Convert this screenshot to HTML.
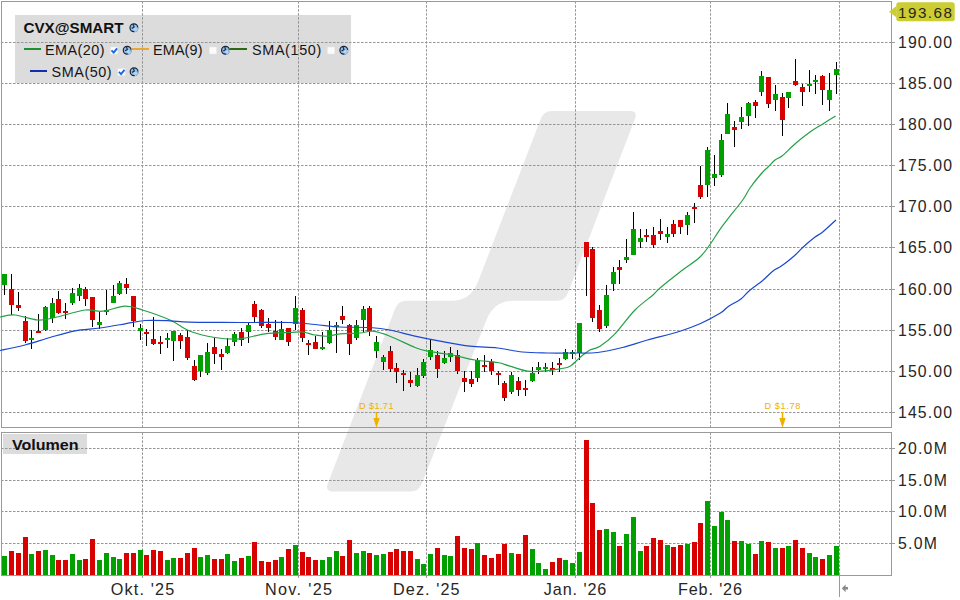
<!DOCTYPE html><html><head><meta charset="utf-8"><style>html,body{margin:0;padding:0;background:#fff;width:960px;height:600px;overflow:hidden}svg{display:block}text{font-family:"Liberation Sans",sans-serif}</style></head><body>
<svg width="960" height="600" viewBox="0 0 960 600">
<rect x="0" y="0" width="960" height="600" fill="#fff"/>
<path d="M551.8,111.0 L630.0,111.0 Q638.0,111.0 634.9,119.0 L568.0,292.8 Q564.9,300.8 556.9,300.8 L513.0,300.8 Q494.0,300.8 486.5,319.8 L421.9,483.5 Q418.7,491.5 410.7,491.5 L332.7,491.5 Q324.7,491.5 327.8,483.5 L395.1,308.8 Q398.1,300.8 406.1,300.8 L451.7,300.8 Q470.7,300.8 478.0,281.8 L540.7,119.0 Q543.8,111.0 551.8,111.0 Z" fill="#e8e8e8"/>
<rect x="15" y="15" width="336" height="68" fill="#dcdcdc"/>
<rect x="3" y="434" width="84" height="20" fill="#dcdcdc"/>
<g stroke="#959595" stroke-width="1" stroke-dasharray="2.5 1.5">
<line x1="1" y1="42.5" x2="891" y2="42.5"/>
<line x1="1" y1="83.5" x2="891" y2="83.5"/>
<line x1="1" y1="124.5" x2="891" y2="124.5"/>
<line x1="1" y1="165.5" x2="891" y2="165.5"/>
<line x1="1" y1="206.5" x2="891" y2="206.5"/>
<line x1="1" y1="247.5" x2="891" y2="247.5"/>
<line x1="1" y1="289.5" x2="891" y2="289.5"/>
<line x1="1" y1="330.5" x2="891" y2="330.5"/>
<line x1="1" y1="371.5" x2="891" y2="371.5"/>
<line x1="1" y1="412.5" x2="891" y2="412.5"/>
<line x1="1" y1="448.5" x2="891" y2="448.5"/>
<line x1="1" y1="480.5" x2="891" y2="480.5"/>
<line x1="1" y1="511.5" x2="891" y2="511.5"/>
<line x1="1" y1="543.5" x2="891" y2="543.5"/>
<line x1="142.5" y1="1.15" x2="142.5" y2="427"/>
<line x1="142.5" y1="432.4" x2="142.5" y2="575"/>
<line x1="298.5" y1="1.15" x2="298.5" y2="427"/>
<line x1="298.5" y1="432.4" x2="298.5" y2="575"/>
<line x1="426.5" y1="1.15" x2="426.5" y2="427"/>
<line x1="426.5" y1="432.4" x2="426.5" y2="575"/>
<line x1="575.5" y1="1.15" x2="575.5" y2="427"/>
<line x1="575.5" y1="432.4" x2="575.5" y2="575"/>
<line x1="710.5" y1="1.15" x2="710.5" y2="427"/>
<line x1="710.5" y1="432.4" x2="710.5" y2="575"/>
<line x1="839.5" y1="1.15" x2="839.5" y2="427"/>
<line x1="839.5" y1="432.4" x2="839.5" y2="575"/>
</g>
<g fill="none" stroke="#9a9a9a" stroke-width="1" shape-rendering="crispEdges">
<rect x="1.5" y="1.5" width="890" height="426"/>
<rect x="1.5" y="432.5" width="890" height="143"/>
<line x1="891" y1="42.5" x2="895" y2="42.5"/>
<line x1="891" y1="83.5" x2="895" y2="83.5"/>
<line x1="891" y1="124.5" x2="895" y2="124.5"/>
<line x1="891" y1="165.5" x2="895" y2="165.5"/>
<line x1="891" y1="206.5" x2="895" y2="206.5"/>
<line x1="891" y1="247.5" x2="895" y2="247.5"/>
<line x1="891" y1="289.5" x2="895" y2="289.5"/>
<line x1="891" y1="330.5" x2="895" y2="330.5"/>
<line x1="891" y1="371.5" x2="895" y2="371.5"/>
<line x1="891" y1="412.5" x2="895" y2="412.5"/>
<line x1="891" y1="448.5" x2="895" y2="448.5"/>
<line x1="891" y1="480.5" x2="895" y2="480.5"/>
<line x1="891" y1="511.5" x2="895" y2="511.5"/>
<line x1="891" y1="543.5" x2="895" y2="543.5"/>
<line x1="142.5" y1="575" x2="142.5" y2="578"/>
<line x1="298.5" y1="575" x2="298.5" y2="578"/>
<line x1="426.5" y1="575" x2="426.5" y2="578"/>
<line x1="575.5" y1="575" x2="575.5" y2="578"/>
<line x1="710.5" y1="575" x2="710.5" y2="578"/>
<line x1="839.5" y1="575" x2="839.5" y2="597"/>
</g>
<path d="M841.8,588.3 L845.6,584.6 L845.6,587.1 L848,587.1 L848,589.6 L845.6,589.6 L845.6,592.2 Z" fill="#8a8a8a"/>
<g shape-rendering="crispEdges">
<rect x="2" y="556" width="5" height="19" fill="#00a000"/>
<rect x="9" y="551" width="5" height="24" fill="#d90000"/>
<rect x="16" y="553" width="5" height="22" fill="#d90000"/>
<rect x="23" y="537" width="5" height="38" fill="#d90000"/>
<rect x="29" y="554" width="5" height="21" fill="#00a000"/>
<rect x="36" y="551" width="5" height="24" fill="#d90000"/>
<rect x="43" y="550" width="5" height="25" fill="#00a000"/>
<rect x="50" y="555" width="5" height="20" fill="#00a000"/>
<rect x="56" y="560" width="5" height="15" fill="#d90000"/>
<rect x="63" y="560" width="5" height="15" fill="#d90000"/>
<rect x="70" y="554" width="5" height="21" fill="#00a000"/>
<rect x="77" y="560" width="5" height="15" fill="#00a000"/>
<rect x="83" y="559" width="5" height="16" fill="#d90000"/>
<rect x="90" y="539" width="5" height="36" fill="#d90000"/>
<rect x="97" y="560" width="5" height="15" fill="#00a000"/>
<rect x="104" y="553" width="5" height="22" fill="#00a000"/>
<rect x="111" y="557" width="5" height="18" fill="#00a000"/>
<rect x="117" y="559" width="5" height="16" fill="#00a000"/>
<rect x="124" y="553" width="5" height="22" fill="#d90000"/>
<rect x="131" y="553" width="5" height="22" fill="#d90000"/>
<rect x="138" y="550" width="5" height="25" fill="#00a000"/>
<rect x="144" y="555" width="5" height="20" fill="#d90000"/>
<rect x="151" y="550" width="5" height="25" fill="#d90000"/>
<rect x="158" y="551" width="5" height="24" fill="#d90000"/>
<rect x="165" y="560" width="5" height="15" fill="#00a000"/>
<rect x="171" y="558" width="5" height="17" fill="#00a000"/>
<rect x="178" y="558" width="5" height="17" fill="#d90000"/>
<rect x="185" y="553" width="5" height="22" fill="#d90000"/>
<rect x="192" y="548" width="5" height="27" fill="#d90000"/>
<rect x="198" y="557" width="5" height="18" fill="#00a000"/>
<rect x="205" y="555" width="5" height="20" fill="#00a000"/>
<rect x="212" y="559" width="5" height="16" fill="#d90000"/>
<rect x="219" y="559" width="5" height="16" fill="#d90000"/>
<rect x="225" y="554" width="5" height="21" fill="#00a000"/>
<rect x="232" y="561" width="5" height="14" fill="#00a000"/>
<rect x="239" y="558" width="5" height="17" fill="#d90000"/>
<rect x="246" y="556" width="5" height="19" fill="#00a000"/>
<rect x="252" y="542" width="5" height="33" fill="#d90000"/>
<rect x="259" y="561" width="5" height="14" fill="#d90000"/>
<rect x="266" y="562" width="5" height="13" fill="#d90000"/>
<rect x="273" y="560" width="5" height="15" fill="#d90000"/>
<rect x="279" y="557" width="5" height="18" fill="#00a000"/>
<rect x="286" y="549" width="5" height="26" fill="#d90000"/>
<rect x="293" y="545" width="5" height="30" fill="#00a000"/>
<rect x="300" y="552" width="5" height="23" fill="#d90000"/>
<rect x="306" y="557" width="5" height="18" fill="#d90000"/>
<rect x="313" y="560" width="5" height="15" fill="#d90000"/>
<rect x="320" y="560" width="5" height="15" fill="#00a000"/>
<rect x="327" y="557" width="5" height="18" fill="#00a000"/>
<rect x="334" y="551" width="5" height="24" fill="#00a000"/>
<rect x="340" y="556" width="5" height="19" fill="#d90000"/>
<rect x="347" y="540" width="5" height="35" fill="#d90000"/>
<rect x="354" y="553" width="5" height="22" fill="#00a000"/>
<rect x="361" y="551" width="5" height="24" fill="#00a000"/>
<rect x="367" y="553" width="5" height="22" fill="#d90000"/>
<rect x="374" y="555" width="5" height="20" fill="#00a000"/>
<rect x="381" y="554" width="5" height="21" fill="#00a000"/>
<rect x="388" y="552" width="5" height="23" fill="#d90000"/>
<rect x="394" y="549" width="5" height="26" fill="#d90000"/>
<rect x="401" y="551" width="5" height="24" fill="#d90000"/>
<rect x="408" y="551" width="5" height="24" fill="#d90000"/>
<rect x="415" y="559" width="5" height="16" fill="#00a000"/>
<rect x="421" y="564" width="5" height="11" fill="#00a000"/>
<rect x="428" y="554" width="5" height="21" fill="#00a000"/>
<rect x="435" y="548" width="5" height="27" fill="#d90000"/>
<rect x="442" y="555" width="5" height="20" fill="#00a000"/>
<rect x="448" y="556" width="5" height="19" fill="#00a000"/>
<rect x="455" y="536" width="5" height="39" fill="#d90000"/>
<rect x="462" y="548" width="5" height="27" fill="#d90000"/>
<rect x="469" y="549" width="5" height="26" fill="#d90000"/>
<rect x="475" y="543" width="5" height="32" fill="#00a000"/>
<rect x="482" y="555" width="5" height="20" fill="#d90000"/>
<rect x="489" y="558" width="5" height="17" fill="#d90000"/>
<rect x="496" y="554" width="5" height="21" fill="#d90000"/>
<rect x="502" y="544" width="5" height="31" fill="#d90000"/>
<rect x="509" y="553" width="5" height="22" fill="#00a000"/>
<rect x="516" y="554" width="5" height="21" fill="#d90000"/>
<rect x="523" y="535" width="5" height="40" fill="#d90000"/>
<rect x="530" y="549" width="5" height="26" fill="#00a000"/>
<rect x="536" y="563" width="5" height="12" fill="#00a000"/>
<rect x="543" y="569" width="5" height="6" fill="#00a000"/>
<rect x="550" y="562" width="5" height="13" fill="#d90000"/>
<rect x="557" y="558" width="5" height="17" fill="#d90000"/>
<rect x="563" y="560" width="5" height="15" fill="#00a000"/>
<rect x="570" y="563" width="5" height="12" fill="#00a000"/>
<rect x="577" y="552" width="5" height="23" fill="#00a000"/>
<rect x="584" y="440" width="5" height="135" fill="#d90000"/>
<rect x="590" y="503" width="5" height="72" fill="#d90000"/>
<rect x="597" y="530" width="5" height="45" fill="#d90000"/>
<rect x="604" y="529" width="5" height="46" fill="#00a000"/>
<rect x="611" y="532" width="5" height="43" fill="#00a000"/>
<rect x="617" y="546" width="5" height="29" fill="#d90000"/>
<rect x="624" y="534" width="5" height="41" fill="#00a000"/>
<rect x="631" y="517" width="5" height="58" fill="#00a000"/>
<rect x="638" y="551" width="5" height="24" fill="#00a000"/>
<rect x="644" y="546" width="5" height="29" fill="#d90000"/>
<rect x="651" y="538" width="5" height="37" fill="#d90000"/>
<rect x="658" y="540" width="5" height="35" fill="#d90000"/>
<rect x="665" y="545" width="5" height="30" fill="#00a000"/>
<rect x="671" y="547" width="5" height="28" fill="#d90000"/>
<rect x="678" y="545" width="5" height="30" fill="#d90000"/>
<rect x="685" y="544" width="5" height="31" fill="#00a000"/>
<rect x="692" y="542" width="5" height="33" fill="#d90000"/>
<rect x="698" y="523" width="5" height="52" fill="#d90000"/>
<rect x="705" y="501" width="5" height="74" fill="#00a000"/>
<rect x="712" y="526" width="5" height="49" fill="#00a000"/>
<rect x="719" y="512" width="5" height="63" fill="#00a000"/>
<rect x="725" y="520" width="5" height="55" fill="#00a000"/>
<rect x="732" y="541" width="5" height="34" fill="#d90000"/>
<rect x="739" y="541" width="5" height="34" fill="#00a000"/>
<rect x="746" y="544" width="5" height="31" fill="#00a000"/>
<rect x="753" y="554" width="5" height="21" fill="#d90000"/>
<rect x="759" y="541" width="5" height="34" fill="#00a000"/>
<rect x="766" y="542" width="5" height="33" fill="#d90000"/>
<rect x="773" y="548" width="5" height="27" fill="#00a000"/>
<rect x="780" y="548" width="5" height="27" fill="#d90000"/>
<rect x="786" y="546" width="5" height="29" fill="#00a000"/>
<rect x="793" y="540" width="5" height="35" fill="#d90000"/>
<rect x="800" y="548" width="5" height="27" fill="#d90000"/>
<rect x="807" y="553" width="5" height="22" fill="#00a000"/>
<rect x="813" y="557" width="5" height="18" fill="#00a000"/>
<rect x="820" y="559" width="5" height="16" fill="#d90000"/>
<rect x="827" y="555" width="5" height="20" fill="#00a000"/>
<rect x="834" y="546" width="5" height="29" fill="#00a000"/>
</g>
<g shape-rendering="crispEdges">
<rect x="4" y="274" width="1" height="21" fill="#000"/>
<rect x="2" y="274" width="5" height="11" fill="#00a000"/>
<rect x="11" y="274" width="1" height="41" fill="#000"/>
<rect x="9" y="289" width="5" height="16" fill="#d90000"/>
<rect x="18" y="292" width="1" height="19" fill="#000"/>
<rect x="16" y="305" width="5" height="3" fill="#d90000"/>
<rect x="25" y="316" width="1" height="27" fill="#000"/>
<rect x="23" y="321" width="5" height="20" fill="#d90000"/>
<rect x="31" y="330" width="1" height="19" fill="#000"/>
<rect x="29" y="338" width="5" height="2" fill="#00a000"/>
<rect x="38" y="314" width="1" height="19" fill="#000"/>
<rect x="36" y="331" width="5" height="2" fill="#d90000"/>
<rect x="45" y="306" width="1" height="25" fill="#000"/>
<rect x="43" y="307" width="5" height="23" fill="#00a000"/>
<rect x="52" y="298" width="1" height="25" fill="#000"/>
<rect x="50" y="303" width="5" height="15" fill="#00a000"/>
<rect x="58" y="291" width="1" height="23" fill="#000"/>
<rect x="56" y="299" width="5" height="14" fill="#d90000"/>
<rect x="65" y="303" width="1" height="16" fill="#000"/>
<rect x="63" y="311" width="5" height="2" fill="#d90000"/>
<rect x="72" y="288" width="1" height="17" fill="#000"/>
<rect x="70" y="293" width="5" height="10" fill="#00a000"/>
<rect x="79" y="284" width="1" height="17" fill="#000"/>
<rect x="77" y="288" width="5" height="8" fill="#00a000"/>
<rect x="85" y="287" width="1" height="19" fill="#000"/>
<rect x="83" y="289" width="5" height="10" fill="#d90000"/>
<rect x="92" y="297" width="1" height="30" fill="#000"/>
<rect x="90" y="297" width="5" height="23" fill="#d90000"/>
<rect x="99" y="312" width="1" height="17" fill="#000"/>
<rect x="97" y="322" width="5" height="3" fill="#00a000"/>
<rect x="106" y="290" width="1" height="25" fill="#000"/>
<rect x="104" y="310" width="5" height="2" fill="#00a000"/>
<rect x="113" y="285" width="1" height="18" fill="#000"/>
<rect x="111" y="296" width="5" height="7" fill="#00a000"/>
<rect x="119" y="281" width="1" height="14" fill="#000"/>
<rect x="117" y="283" width="5" height="11" fill="#00a000"/>
<rect x="126" y="278" width="1" height="16" fill="#000"/>
<rect x="124" y="284" width="5" height="4" fill="#d90000"/>
<rect x="133" y="296" width="1" height="31" fill="#000"/>
<rect x="131" y="296" width="5" height="25" fill="#d90000"/>
<rect x="140" y="324" width="1" height="16" fill="#000"/>
<rect x="138" y="328" width="5" height="3" fill="#00a000"/>
<rect x="146" y="329" width="1" height="17" fill="#000"/>
<rect x="144" y="332" width="5" height="2" fill="#d90000"/>
<rect x="153" y="317" width="1" height="28" fill="#000"/>
<rect x="151" y="339" width="5" height="5" fill="#d90000"/>
<rect x="160" y="336" width="1" height="18" fill="#000"/>
<rect x="158" y="342" width="5" height="2" fill="#d90000"/>
<rect x="167" y="333" width="1" height="15" fill="#000"/>
<rect x="165" y="338" width="5" height="2" fill="#00a000"/>
<rect x="173" y="331" width="1" height="30" fill="#000"/>
<rect x="171" y="331" width="5" height="10" fill="#00a000"/>
<rect x="180" y="333" width="1" height="16" fill="#000"/>
<rect x="178" y="335" width="5" height="6" fill="#d90000"/>
<rect x="187" y="330" width="1" height="30" fill="#000"/>
<rect x="185" y="337" width="5" height="21" fill="#d90000"/>
<rect x="194" y="360" width="1" height="21" fill="#000"/>
<rect x="192" y="366" width="5" height="14" fill="#d90000"/>
<rect x="200" y="355" width="1" height="22" fill="#000"/>
<rect x="198" y="355" width="5" height="16" fill="#00a000"/>
<rect x="207" y="343" width="1" height="32" fill="#000"/>
<rect x="205" y="352" width="5" height="21" fill="#00a000"/>
<rect x="214" y="338" width="1" height="26" fill="#000"/>
<rect x="212" y="347" width="5" height="7" fill="#d90000"/>
<rect x="221" y="349" width="1" height="21" fill="#000"/>
<rect x="219" y="354" width="5" height="3" fill="#d90000"/>
<rect x="227" y="338" width="1" height="16" fill="#000"/>
<rect x="225" y="346" width="5" height="7" fill="#00a000"/>
<rect x="234" y="332" width="1" height="14" fill="#000"/>
<rect x="232" y="334" width="5" height="8" fill="#00a000"/>
<rect x="241" y="328" width="1" height="18" fill="#000"/>
<rect x="239" y="332" width="5" height="8" fill="#d90000"/>
<rect x="248" y="322" width="1" height="21" fill="#000"/>
<rect x="246" y="325" width="5" height="7" fill="#00a000"/>
<rect x="254" y="301" width="1" height="21" fill="#000"/>
<rect x="252" y="304" width="5" height="13" fill="#d90000"/>
<rect x="261" y="309" width="1" height="19" fill="#000"/>
<rect x="259" y="310" width="5" height="16" fill="#d90000"/>
<rect x="268" y="318" width="1" height="14" fill="#000"/>
<rect x="266" y="324" width="5" height="4" fill="#d90000"/>
<rect x="275" y="320" width="1" height="20" fill="#000"/>
<rect x="273" y="331" width="5" height="6" fill="#d90000"/>
<rect x="281" y="321" width="1" height="19" fill="#000"/>
<rect x="279" y="329" width="5" height="11" fill="#00a000"/>
<rect x="288" y="328" width="1" height="18" fill="#000"/>
<rect x="286" y="328" width="5" height="14" fill="#d90000"/>
<rect x="295" y="296" width="1" height="34" fill="#000"/>
<rect x="293" y="308" width="5" height="16" fill="#00a000"/>
<rect x="302" y="308" width="1" height="34" fill="#000"/>
<rect x="300" y="310" width="5" height="28" fill="#d90000"/>
<rect x="308" y="340" width="1" height="15" fill="#000"/>
<rect x="306" y="343" width="5" height="2" fill="#d90000"/>
<rect x="315" y="336" width="1" height="13" fill="#000"/>
<rect x="313" y="342" width="5" height="7" fill="#d90000"/>
<rect x="322" y="332" width="1" height="18" fill="#000"/>
<rect x="320" y="347" width="5" height="2" fill="#00a000"/>
<rect x="329" y="321" width="1" height="23" fill="#000"/>
<rect x="327" y="330" width="5" height="13" fill="#00a000"/>
<rect x="336" y="322" width="1" height="31" fill="#000"/>
<rect x="334" y="325" width="5" height="2" fill="#00a000"/>
<rect x="342" y="306" width="1" height="18" fill="#000"/>
<rect x="340" y="316" width="5" height="4" fill="#d90000"/>
<rect x="349" y="324" width="1" height="31" fill="#000"/>
<rect x="347" y="325" width="5" height="19" fill="#d90000"/>
<rect x="356" y="320" width="1" height="20" fill="#000"/>
<rect x="354" y="325" width="5" height="13" fill="#00a000"/>
<rect x="363" y="306" width="1" height="27" fill="#000"/>
<rect x="361" y="309" width="5" height="11" fill="#00a000"/>
<rect x="369" y="306" width="1" height="30" fill="#000"/>
<rect x="367" y="308" width="5" height="23" fill="#d90000"/>
<rect x="376" y="336" width="1" height="22" fill="#000"/>
<rect x="374" y="342" width="5" height="9" fill="#00a000"/>
<rect x="383" y="355" width="1" height="15" fill="#000"/>
<rect x="381" y="357" width="5" height="5" fill="#00a000"/>
<rect x="390" y="346" width="1" height="26" fill="#000"/>
<rect x="388" y="351" width="5" height="18" fill="#d90000"/>
<rect x="396" y="363" width="1" height="20" fill="#000"/>
<rect x="394" y="368" width="5" height="4" fill="#d90000"/>
<rect x="403" y="370" width="1" height="21" fill="#000"/>
<rect x="401" y="373" width="5" height="2" fill="#d90000"/>
<rect x="410" y="372" width="1" height="15" fill="#000"/>
<rect x="408" y="380" width="5" height="3" fill="#d90000"/>
<rect x="417" y="368" width="1" height="19" fill="#000"/>
<rect x="415" y="375" width="5" height="11" fill="#00a000"/>
<rect x="423" y="359" width="1" height="19" fill="#000"/>
<rect x="421" y="362" width="5" height="14" fill="#00a000"/>
<rect x="430" y="339" width="1" height="21" fill="#000"/>
<rect x="428" y="350" width="5" height="7" fill="#00a000"/>
<rect x="437" y="351" width="1" height="27" fill="#000"/>
<rect x="435" y="355" width="5" height="14" fill="#d90000"/>
<rect x="444" y="351" width="1" height="13" fill="#000"/>
<rect x="442" y="358" width="5" height="5" fill="#00a000"/>
<rect x="450" y="347" width="1" height="15" fill="#000"/>
<rect x="448" y="353" width="5" height="4" fill="#00a000"/>
<rect x="457" y="350" width="1" height="24" fill="#000"/>
<rect x="455" y="355" width="5" height="16" fill="#d90000"/>
<rect x="464" y="371" width="1" height="21" fill="#000"/>
<rect x="462" y="378" width="5" height="4" fill="#d90000"/>
<rect x="471" y="371" width="1" height="16" fill="#000"/>
<rect x="469" y="379" width="5" height="5" fill="#d90000"/>
<rect x="477" y="358" width="1" height="24" fill="#000"/>
<rect x="475" y="360" width="5" height="18" fill="#00a000"/>
<rect x="484" y="355" width="1" height="17" fill="#000"/>
<rect x="482" y="365" width="5" height="2" fill="#d90000"/>
<rect x="491" y="359" width="1" height="16" fill="#000"/>
<rect x="489" y="362" width="5" height="9" fill="#d90000"/>
<rect x="498" y="371" width="1" height="14" fill="#000"/>
<rect x="496" y="373" width="5" height="2" fill="#d90000"/>
<rect x="504" y="381" width="1" height="20" fill="#000"/>
<rect x="502" y="383" width="5" height="15" fill="#d90000"/>
<rect x="511" y="372" width="1" height="22" fill="#000"/>
<rect x="509" y="375" width="5" height="17" fill="#00a000"/>
<rect x="518" y="377" width="1" height="19" fill="#000"/>
<rect x="516" y="381" width="5" height="9" fill="#d90000"/>
<rect x="525" y="380" width="1" height="16" fill="#000"/>
<rect x="523" y="388" width="5" height="2" fill="#d90000"/>
<rect x="532" y="367" width="1" height="15" fill="#000"/>
<rect x="530" y="373" width="5" height="8" fill="#00a000"/>
<rect x="538" y="362" width="1" height="12" fill="#000"/>
<rect x="536" y="367" width="5" height="3" fill="#00a000"/>
<rect x="545" y="363" width="1" height="9" fill="#000"/>
<rect x="543" y="367" width="5" height="2" fill="#00a000"/>
<rect x="552" y="362" width="1" height="13" fill="#000"/>
<rect x="550" y="368" width="5" height="2" fill="#d90000"/>
<rect x="559" y="358" width="1" height="14" fill="#000"/>
<rect x="557" y="363" width="5" height="2" fill="#d90000"/>
<rect x="565" y="349" width="1" height="11" fill="#000"/>
<rect x="563" y="352" width="5" height="7" fill="#00a000"/>
<rect x="572" y="350" width="1" height="9" fill="#000"/>
<rect x="570" y="352" width="5" height="2" fill="#00a000"/>
<rect x="579" y="323" width="1" height="37" fill="#000"/>
<rect x="577" y="323" width="5" height="30" fill="#00a000"/>
<rect x="586" y="242" width="1" height="54" fill="#000"/>
<rect x="584" y="242" width="5" height="15" fill="#d90000"/>
<rect x="592" y="247" width="1" height="75" fill="#000"/>
<rect x="590" y="249" width="5" height="69" fill="#d90000"/>
<rect x="599" y="305" width="1" height="27" fill="#000"/>
<rect x="597" y="310" width="5" height="19" fill="#d90000"/>
<rect x="606" y="285" width="1" height="43" fill="#000"/>
<rect x="604" y="295" width="5" height="31" fill="#00a000"/>
<rect x="613" y="267" width="1" height="24" fill="#000"/>
<rect x="611" y="272" width="5" height="12" fill="#00a000"/>
<rect x="619" y="260" width="1" height="24" fill="#000"/>
<rect x="617" y="267" width="5" height="3" fill="#d90000"/>
<rect x="626" y="239" width="1" height="24" fill="#000"/>
<rect x="624" y="257" width="5" height="3" fill="#00a000"/>
<rect x="633" y="212" width="1" height="43" fill="#000"/>
<rect x="631" y="229" width="5" height="26" fill="#00a000"/>
<rect x="640" y="229" width="1" height="19" fill="#000"/>
<rect x="638" y="238" width="5" height="4" fill="#00a000"/>
<rect x="646" y="229" width="1" height="13" fill="#000"/>
<rect x="644" y="235" width="5" height="2" fill="#d90000"/>
<rect x="653" y="227" width="1" height="21" fill="#000"/>
<rect x="651" y="235" width="5" height="10" fill="#d90000"/>
<rect x="660" y="219" width="1" height="21" fill="#000"/>
<rect x="658" y="231" width="5" height="3" fill="#d90000"/>
<rect x="667" y="227" width="1" height="16" fill="#000"/>
<rect x="665" y="234" width="5" height="3" fill="#00a000"/>
<rect x="673" y="220" width="1" height="17" fill="#000"/>
<rect x="671" y="224" width="5" height="10" fill="#d90000"/>
<rect x="680" y="220" width="1" height="14" fill="#000"/>
<rect x="678" y="220" width="5" height="7" fill="#d90000"/>
<rect x="687" y="212" width="1" height="23" fill="#000"/>
<rect x="685" y="215" width="5" height="10" fill="#00a000"/>
<rect x="694" y="203" width="1" height="20" fill="#000"/>
<rect x="692" y="207" width="5" height="2" fill="#d90000"/>
<rect x="700" y="166" width="1" height="33" fill="#000"/>
<rect x="698" y="185" width="5" height="12" fill="#d90000"/>
<rect x="707" y="147" width="1" height="50" fill="#000"/>
<rect x="705" y="150" width="5" height="35" fill="#00a000"/>
<rect x="714" y="155" width="1" height="31" fill="#000"/>
<rect x="712" y="174" width="5" height="4" fill="#00a000"/>
<rect x="721" y="134" width="1" height="43" fill="#000"/>
<rect x="719" y="140" width="5" height="35" fill="#00a000"/>
<rect x="727" y="103" width="1" height="31" fill="#000"/>
<rect x="725" y="114" width="5" height="20" fill="#00a000"/>
<rect x="734" y="121" width="1" height="26" fill="#000"/>
<rect x="732" y="127" width="5" height="3" fill="#d90000"/>
<rect x="741" y="107" width="1" height="22" fill="#000"/>
<rect x="739" y="117" width="5" height="5" fill="#00a000"/>
<rect x="748" y="102" width="1" height="24" fill="#000"/>
<rect x="746" y="103" width="5" height="13" fill="#00a000"/>
<rect x="755" y="100" width="1" height="18" fill="#000"/>
<rect x="753" y="102" width="5" height="4" fill="#d90000"/>
<rect x="761" y="71" width="1" height="25" fill="#000"/>
<rect x="759" y="76" width="5" height="16" fill="#00a000"/>
<rect x="768" y="77" width="1" height="31" fill="#000"/>
<rect x="766" y="77" width="5" height="27" fill="#d90000"/>
<rect x="775" y="85" width="1" height="26" fill="#000"/>
<rect x="773" y="94" width="5" height="6" fill="#00a000"/>
<rect x="782" y="93" width="1" height="43" fill="#000"/>
<rect x="780" y="97" width="5" height="23" fill="#d90000"/>
<rect x="788" y="92" width="1" height="16" fill="#000"/>
<rect x="786" y="92" width="5" height="6" fill="#00a000"/>
<rect x="795" y="59" width="1" height="27" fill="#000"/>
<rect x="793" y="81" width="5" height="4" fill="#d90000"/>
<rect x="802" y="84" width="1" height="22" fill="#000"/>
<rect x="800" y="87" width="5" height="5" fill="#d90000"/>
<rect x="809" y="70" width="1" height="22" fill="#000"/>
<rect x="807" y="84" width="5" height="2" fill="#00a000"/>
<rect x="815" y="75" width="1" height="19" fill="#000"/>
<rect x="813" y="80" width="5" height="2" fill="#00a000"/>
<rect x="822" y="75" width="1" height="30" fill="#000"/>
<rect x="820" y="76" width="5" height="14" fill="#d90000"/>
<rect x="829" y="73" width="1" height="38" fill="#000"/>
<rect x="827" y="90" width="5" height="10" fill="#00a000"/>
<rect x="836" y="62" width="1" height="32" fill="#000"/>
<rect x="834" y="69" width="5" height="6" fill="#00a000"/>
</g>
<path d="M0.0,317.0 C2.5,316.7 8.8,314.5 15.0,315.0 C21.2,315.5 30.8,319.6 37.5,320.0 C44.2,320.4 47.1,319.2 55.0,317.5 C62.9,315.8 77.1,311.0 85.0,310.0 C92.9,309.0 95.8,311.9 102.5,311.2 C109.2,310.6 118.3,306.5 125.0,306.2 C131.7,306.0 135.0,307.7 142.5,310.0 C150.0,312.3 162.1,316.5 170.0,320.0 C177.9,323.5 182.5,328.3 190.0,331.2 C197.5,334.2 206.7,336.2 215.0,337.5 C223.3,338.8 231.7,339.4 240.0,338.8 C248.3,338.1 256.7,334.8 265.0,333.8 C273.3,332.7 283.8,332.8 290.0,332.5 C296.2,332.2 298.3,331.6 302.5,332.0 C306.7,332.4 310.8,334.3 315.0,335.0 C319.2,335.7 323.3,336.5 327.5,336.2 C331.7,336.0 334.6,334.3 340.0,333.8 C345.4,333.2 354.6,333.4 360.0,333.0 C365.4,332.6 367.5,330.7 372.5,331.2 C377.5,331.8 382.9,333.5 390.0,336.2 C397.1,339.0 408.8,345.0 415.0,347.5 C421.2,350.0 421.2,350.0 427.5,351.2 C433.8,352.5 444.6,353.5 452.5,355.0 C460.4,356.5 467.5,358.8 475.0,360.0 C482.5,361.2 491.7,361.5 497.5,362.5 C503.3,363.5 505.0,364.8 510.0,366.2 C515.0,367.7 522.1,370.4 527.5,371.2 C532.9,372.1 537.1,371.7 542.5,371.2 C547.9,370.8 555.4,369.6 560.0,368.8 C564.6,367.9 566.7,368.1 570.0,366.2 C573.3,364.4 576.7,360.2 580.0,357.5 C583.3,354.8 586.7,351.9 590.0,350.0 C593.3,348.1 595.8,349.0 600.0,346.2 C604.2,343.5 609.2,339.8 615.0,333.8 C620.8,327.7 628.6,316.5 635.0,310.0 C641.4,303.5 649.1,298.4 653.3,294.7 C657.5,291.0 655.5,291.8 660.0,288.0 C664.5,284.2 673.3,277.2 680.0,272.0 C686.7,266.8 694.9,261.8 700.0,257.0 C705.1,252.2 707.4,248.1 710.7,243.5 C714.0,238.9 717.1,233.4 720.0,229.3 C722.9,225.2 724.2,223.6 728.0,218.7 C731.8,213.8 739.0,205.1 742.7,200.0 C746.4,194.9 747.0,192.3 750.0,188.0 C753.0,183.7 758.0,177.5 761.0,174.0 C764.0,170.5 765.7,169.3 768.0,167.0 C770.3,164.7 772.7,161.8 775.0,160.0 C777.3,158.2 778.5,158.8 782.0,156.0 C785.5,153.2 791.3,147.0 796.0,143.0 C800.7,139.0 805.7,135.1 810.0,132.0 C814.3,128.9 817.7,127.1 822.0,124.4 C826.3,121.7 833.3,117.4 835.6,116.0" fill="none" stroke="#24a046" stroke-width="1.2"/>
<path d="M0.0,350.5 C4.2,349.6 16.7,347.2 25.0,345.0 C33.3,342.8 41.7,339.9 50.0,337.5 C58.3,335.1 66.7,332.4 75.0,330.8 C83.3,329.2 91.7,329.2 100.0,328.0 C108.3,326.8 117.5,325.1 125.0,323.8 C132.5,322.6 137.5,321.0 145.0,320.5 C152.5,320.0 162.5,320.5 170.0,320.8 C177.5,321.1 178.3,321.9 190.0,322.2 C201.7,322.5 223.3,322.4 240.0,322.5 C256.7,322.6 277.5,322.2 290.0,322.5 C302.5,322.8 306.7,323.8 315.0,324.5 C323.3,325.2 330.8,326.5 340.0,327.0 C349.2,327.5 361.7,327.0 370.0,327.5 C378.3,328.0 382.5,328.5 390.0,330.0 C397.5,331.5 406.7,334.4 415.0,336.2 C423.3,338.1 430.8,339.6 440.0,341.2 C449.2,342.9 460.4,345.1 470.0,346.2 C479.6,347.4 488.8,347.0 497.5,348.0 C506.2,349.0 514.2,351.2 522.5,352.0 C530.8,352.8 539.2,352.8 547.5,353.0 C555.8,353.2 564.2,353.1 572.5,353.0 C580.8,352.9 589.2,353.4 597.5,352.5 C605.8,351.6 614.2,349.6 622.5,347.5 C630.8,345.4 637.9,342.7 647.5,340.0 C657.1,337.3 671.2,334.0 680.0,331.2 C688.8,328.5 693.3,326.7 700.0,323.8 C706.7,320.8 715.3,316.1 720.0,313.3 C724.7,310.5 724.5,309.1 728.0,306.7 C731.5,304.3 737.8,301.4 741.3,298.7 C744.8,296.0 745.7,293.7 749.3,290.7 C752.9,287.7 758.7,283.8 762.7,280.5 C766.7,277.2 770.2,273.1 773.3,270.7 C776.4,268.3 777.7,268.6 781.3,266.1 C784.9,263.6 791.1,258.6 794.7,255.5 C798.3,252.4 799.4,250.5 802.7,247.5 C806.0,244.5 811.4,239.9 814.7,237.3 C818.0,234.7 819.2,234.9 822.7,232.0 C826.2,229.1 833.8,222.0 836.0,220.0" fill="none" stroke="#1b48d0" stroke-width="1.2"/>
<text x="23.5" y="33.2" font-size="14.2" font-weight="bold" fill="#111" textLength="100" lengthAdjust="spacingAndGlyphs">CVX@SMART</text>
<g><circle cx="133.9" cy="27.8" r="3.9" fill="#93bfea" stroke="#15243a" stroke-width="1.2"/><path d="M137.8,27.3 A3.9,3.9 0 0 1 134.4,31.7" fill="none" stroke="#a8d0f4" stroke-width="1.3"/><path d="M133.1,24.2 L134.1,27.2 L131.70000000000002,28.400000000000002" fill="none" stroke="#1d2f4a" stroke-width="1.2"/><circle cx="135.1" cy="29.2" r="1.6" fill="#b5d6f5"/></g>
<rect x="24" y="48" width="17" height="2" fill="#1f8f2f"/>
<text x="45" y="55.3" font-size="14.4" fill="#151515" textLength="59.6" lengthAdjust="spacing">EMA(20)</text>
<rect x="110.3" y="47" width="7.5" height="7" fill="#fbfbfb" stroke="#e4e4e4" stroke-width="0.5"/><path d="M111.5,50.4 L113.7,52.6 L117.1,48.4" fill="none" stroke="#1a66dd" stroke-width="1.9"/>
<g><circle cx="127.2" cy="50.2" r="3.9" fill="#93bfea" stroke="#15243a" stroke-width="1.2"/><path d="M131.1,49.7 A3.9,3.9 0 0 1 127.7,54.1" fill="none" stroke="#a8d0f4" stroke-width="1.3"/><path d="M126.4,46.6 L127.4,49.6 L125.0,50.800000000000004" fill="none" stroke="#1d2f4a" stroke-width="1.2"/><circle cx="128.4" cy="51.6" r="1.6" fill="#b5d6f5"/></g>
<rect x="132" y="48" width="17" height="2" fill="#e8a838"/>
<text x="153" y="55.3" font-size="14.4" fill="#151515" textLength="49.5" lengthAdjust="spacing">EMA(9)</text>
<rect x="209.2" y="47" width="7.5" height="7" fill="#fbfbfb" stroke="#e4e4e4" stroke-width="0.5"/>
<g><circle cx="225.5" cy="50.3" r="3.9" fill="#93bfea" stroke="#15243a" stroke-width="1.2"/><path d="M229.4,49.8 A3.9,3.9 0 0 1 226.0,54.199999999999996" fill="none" stroke="#a8d0f4" stroke-width="1.3"/><path d="M224.7,46.699999999999996 L225.7,49.699999999999996 L223.3,50.9" fill="none" stroke="#1d2f4a" stroke-width="1.2"/><circle cx="226.7" cy="51.699999999999996" r="1.6" fill="#b5d6f5"/></g>
<rect x="230" y="48" width="17" height="2" fill="#2b6a10"/>
<text x="252" y="55.3" font-size="14.4" fill="#151515" textLength="69.3" lengthAdjust="spacing">SMA(150)</text>
<rect x="327.3" y="47" width="7.5" height="7" fill="#fbfbfb" stroke="#e4e4e4" stroke-width="0.5"/>
<g><circle cx="343.8" cy="50.3" r="3.9" fill="#93bfea" stroke="#15243a" stroke-width="1.2"/><path d="M347.7,49.8 A3.9,3.9 0 0 1 344.3,54.199999999999996" fill="none" stroke="#a8d0f4" stroke-width="1.3"/><path d="M343.0,46.699999999999996 L344.0,49.699999999999996 L341.6,50.9" fill="none" stroke="#1d2f4a" stroke-width="1.2"/><circle cx="345.0" cy="51.699999999999996" r="1.6" fill="#b5d6f5"/></g>
<rect x="30" y="70" width="17" height="2" fill="#1030b0"/>
<text x="51.6" y="76.9" font-size="14.4" fill="#151515" textLength="60" lengthAdjust="spacing">SMA(50)</text>
<rect x="117.7" y="68.5" width="7.5" height="7" fill="#fbfbfb" stroke="#e4e4e4" stroke-width="0.5"/><path d="M118.9,71.9 L121.10000000000001,74.1 L124.5,69.9" fill="none" stroke="#1a66dd" stroke-width="1.9"/>
<g><circle cx="134.1" cy="71.8" r="3.9" fill="#93bfea" stroke="#15243a" stroke-width="1.2"/><path d="M138.0,71.3 A3.9,3.9 0 0 1 134.6,75.7" fill="none" stroke="#a8d0f4" stroke-width="1.3"/><path d="M133.29999999999998,68.2 L134.29999999999998,71.2 L131.9,72.39999999999999" fill="none" stroke="#1d2f4a" stroke-width="1.2"/><circle cx="135.29999999999998" cy="73.2" r="1.6" fill="#b5d6f5"/></g>
<text x="12" y="450" font-size="14.2" font-weight="bold" fill="#111" textLength="66.6" lengthAdjust="spacingAndGlyphs">Volumen</text>
<text x="898" y="48.3" font-size="15.8" fill="#262626" textLength="54" lengthAdjust="spacing">190.00</text>
<text x="898" y="89.3" font-size="15.8" fill="#262626" textLength="54" lengthAdjust="spacing">185.00</text>
<text x="898" y="130.3" font-size="15.8" fill="#262626" textLength="54" lengthAdjust="spacing">180.00</text>
<text x="898" y="171.3" font-size="15.8" fill="#262626" textLength="54" lengthAdjust="spacing">175.00</text>
<text x="898" y="212.3" font-size="15.8" fill="#262626" textLength="54" lengthAdjust="spacing">170.00</text>
<text x="898" y="253.3" font-size="15.8" fill="#262626" textLength="54" lengthAdjust="spacing">165.00</text>
<text x="898" y="295.3" font-size="15.8" fill="#262626" textLength="54" lengthAdjust="spacing">160.00</text>
<text x="898" y="336.3" font-size="15.8" fill="#262626" textLength="54" lengthAdjust="spacing">155.00</text>
<text x="898" y="377.3" font-size="15.8" fill="#262626" textLength="54" lengthAdjust="spacing">150.00</text>
<text x="898" y="418.3" font-size="15.8" fill="#262626" textLength="54" lengthAdjust="spacing">145.00</text>
<text x="898" y="454.3" font-size="15.8" fill="#262626" textLength="48.8" lengthAdjust="spacing">20.0M</text>
<text x="898" y="486.3" font-size="15.8" fill="#262626" textLength="48.8" lengthAdjust="spacing">15.0M</text>
<text x="898" y="517.3" font-size="15.8" fill="#262626" textLength="48.8" lengthAdjust="spacing">10.0M</text>
<text x="898" y="549.3" font-size="15.8" fill="#262626" textLength="39" lengthAdjust="spacing">5.0M</text>
<text x="110.8" y="594.7" font-size="16.2" fill="#262626" textLength="63.4" lengthAdjust="spacing">Okt. '25</text>
<text x="265" y="594.7" font-size="16.2" fill="#262626" textLength="67" lengthAdjust="spacing">Nov. '25</text>
<text x="393" y="594.7" font-size="16.2" fill="#262626" textLength="66.5" lengthAdjust="spacing">Dez. '25</text>
<text x="543.8" y="594.7" font-size="16.2" fill="#262626" textLength="62.5" lengthAdjust="spacing">Jan. '26</text>
<text x="678" y="594.7" font-size="16.2" fill="#262626" textLength="64" lengthAdjust="spacing">Feb. '26</text>
<text x="358.9" y="408.6" font-size="9.2" fill="#f0b000" textLength="34.6" lengthAdjust="spacing">D $1.71</text>
<rect x="375.75" y="412" width="1.5" height="8" fill="#f0b000"/>
<path d="M373.3,418 L379.7,418 L376.5,428 Z" fill="#f0b000"/>
<text x="764.4" y="408.6" font-size="9.2" fill="#f0b000" textLength="36" lengthAdjust="spacing">D $1.78</text>
<rect x="781.75" y="412" width="1.5" height="8" fill="#f0b000"/>
<path d="M779.3,418 L785.7,418 L782.5,428 Z" fill="#f0b000"/>
<path d="M889,11.7 L896.5,6 L896.5,17.4 Z" fill="#cccc33"/>
<rect x="896.3" y="2.3" width="58.4" height="19" rx="2.5" fill="#cccc33"/>
<text x="898" y="17.5" font-size="15.2" fill="#262626" textLength="54" lengthAdjust="spacing">193.68</text>
</svg></body></html>
